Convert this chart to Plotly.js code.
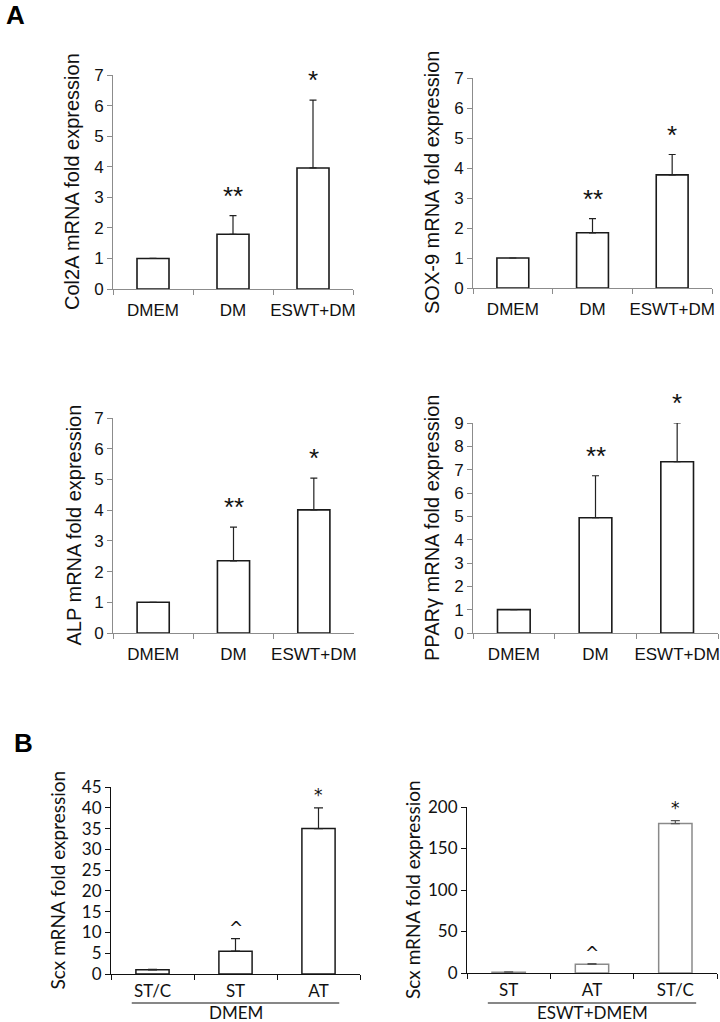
<!DOCTYPE html>
<html><head><meta charset="utf-8">
<script src="https://cdn.plot.ly/plotly-3.0.1.min.js"></script>
<style>html,body{margin:0;padding:0;background:#fff}</style>
</head><body><div id="chart" style="width:720px;height:1022px"></div>
<script>
// ---- data ----
const catsA = ['DMEM', 'DM', 'ESWT+DM'];
const col2aVals = [1.0, 1.79, 3.96];
const col2aErr  = [0, 0.61, 2.22];
const sox9Vals  = [1.0, 1.84, 3.77];
const sox9Err   = [0, 0.47, 0.68];
const alpVals   = [1.0, 2.35, 4.01];
const alpErr    = [0, 1.10, 1.03];
const pparVals  = [1.0, 4.94, 7.34];
const pparErr   = [0, 1.80, 1.66];
const sigA      = ['', '**', '*'];

const catsB1 = ['ST/C', 'ST', 'AT'];
const scxDmemVals = [1.0, 5.5, 35.0];
const scxDmemErr  = [0.1, 3.0, 5.0];
const sigB1 = ['', '^', '*'];
const catsB2 = ['ST', 'AT', 'ST/C'];
const scxEswtVals = [1.0, 10.5, 180.0];
const scxEswtErr  = [0.3, 0.8, 3.5];
const sigB2 = ['', '^', '*'];

const groupB1 = 'DMEM';
const groupB2 = 'ESWT+DMEM';

// ---- layout helpers ----
const W = 720, H = 1022;
const dx = (a, b) => [a / W, b / W];
const dy = (top, bottom) => [1 - bottom / H, 1 - top / H];

const fontA = 'Liberation Sans, Arial, sans-serif';
const fontB = 'Lato, Liberation Sans, sans-serif';

const panels = [
  {cats: catsA, vals: col2aVals, err: col2aErr, sig: sigA, title: 'Col2A mRNA fold expression',
   xd: dx(113, 353), yd: dy(75, 289), range: [0, 7], dtick: 1, style: 'A', titleX: 72},
  {cats: catsA, vals: sox9Vals, err: sox9Err, sig: sigA, title: 'SOX-9 mRNA fold expression',
   xd: dx(473, 712), yd: dy(78, 288), range: [0, 7], dtick: 1, style: 'A', titleX: 432},
  {cats: catsA, vals: alpVals, err: alpErr, sig: sigA, title: 'ALP mRNA fold expression',
   xd: dx(113, 354), yd: dy(418, 633), range: [0, 7], dtick: 1, style: 'A', titleX: 73},
  {cats: catsA, vals: pparVals, err: pparErr, sig: sigA, title: 'PPARγ mRNA fold expression',
   xd: dx(473, 718), yd: dy(423, 633), range: [0, 9], dtick: 1, style: 'A', titleX: 432},
  {cats: catsB1, vals: scxDmemVals, err: scxDmemErr, sig: sigB1, title: 'Scx mRNA fold expression',
   xd: dx(111, 360), yd: dy(787, 974), range: [0, 45], dtick: 5, style: 'B1', titleX: 57, group: groupB1},
  {cats: catsB2, vals: scxEswtVals, err: scxEswtErr, sig: sigB2, title: 'Scx mRNA fold expression',
   xd: dx(467, 717), yd: dy(807, 973), range: [0, 200], dtick: 50, style: 'B2', titleX: 412, group: groupB2}
];

const data = [];
const layout = {
  width: W, height: H, margin: {l: 0, r: 0, t: 0, b: 0},
  paper_bgcolor: '#fff', plot_bgcolor: 'rgba(0,0,0,0)',
  showlegend: false, annotations: [], shapes: []
};

panels.forEach((p, i) => {
  const n = i + 1;
  const xa = 'x' + (n === 1 ? '' : n), ya = 'y' + (n === 1 ? '' : n);
  const isA = p.style === 'A';
  const barLine = p.style === 'B2' ? '#8a8a8a' : '#1a1a1a';
  const errColor = p.style === 'B2' ? '#555' : '#222';
  data.push({
    type: 'bar', x: p.cats, y: p.vals, xaxis: xa, yaxis: ya, width: 0.4,
    marker: {color: '#fff', line: {color: barLine, width: isA ? 1.6 : 1.5}},
    error_y: {type: 'data', symmetric: false, array: p.err, arrayminus: p.err.map(() => 0),
              color: errColor, thickness: 1.2, width: isA ? 3.5 : 4.5},
    hoverinfo: 'skip'
  });
  const axColor = isA ? '#8c8c8c' : '#111';
  const font = isA ? fontA : fontB;
  const fs = 17;
  layout['xaxis' + (n === 1 ? '' : n)] = {
    domain: p.xd, anchor: ya, type: 'category', tickson: 'boundaries', tickangle: 0,
    showline: true, linecolor: axColor, linewidth: 1, ticks: 'outside', ticklen: 5,
    tickcolor: axColor, showgrid: false, zeroline: false, fixedrange: true, automargin: false,
    ticklabelstandoff: isA ? 6 : 2,
    tickfont: {family: font, size: fs, color: '#111'}
  };
  layout['yaxis' + (n === 1 ? '' : n)] = {
    domain: p.yd, anchor: xa, range: p.range, dtick: p.dtick, tick0: 0,
    showline: true, linecolor: axColor, linewidth: 1, ticks: 'outside', ticklen: 5,
    tickcolor: axColor, showgrid: false, zeroline: false, fixedrange: true, automargin: false,
    tickfont: {family: font, size: fs, color: '#111'}
  };
  layout.annotations.push({
    xref: 'paper', yref: 'paper', x: p.titleX / W, y: (p.yd[0] + p.yd[1]) / 2,
    text: p.title, textangle: -90, showarrow: false, xanchor: 'center', yanchor: 'middle',
    font: {family: font, size: isA ? 20 : 19, color: '#111'}
  });
  p.sig.forEach((s, k) => {
    if (!s) return;
    layout.annotations.push({
      xref: xa, yref: ya, x: p.cats[k], y: p.vals[k] + p.err[k], text: s, showarrow: false,
      xanchor: 'center', yanchor: 'middle',
      yshift: isA ? 20 : (s === '^' ? 11 : 13),
      font: {family: isA ? fontA : 'DejaVu Sans, sans-serif', size: isA ? 26 : 17, color: '#111'}
    });
  });
  if (p.group) {
    layout.shapes.push({type: 'line', xref: xa, yref: 'paper', x0: -0.25, x1: 2.25,
      y0: 1 - 1003 / H, y1: 1 - 1003 / H, line: {color: '#111', width: 1.2}});
    layout.annotations.push({xref: xa, yref: 'paper', x: 1, y: 1 - 1012 / H, text: p.group,
      showarrow: false, xanchor: 'center', yanchor: 'middle',
      font: {family: fontB, size: 17, color: '#111'}});
  }
});

layout.annotations.push({xref: 'paper', yref: 'paper', x: 15 / W, y: 1 - 15 / H, text: '<b>A</b>',
  showarrow: false, xanchor: 'center', yanchor: 'middle', font: {family: fontA, size: 26, color: '#000'}});
layout.annotations.push({xref: 'paper', yref: 'paper', x: 23 / W, y: 1 - 743 / H, text: '<b>B</b>',
  showarrow: false, xanchor: 'center', yanchor: 'middle', font: {family: fontA, size: 26, color: '#000'}});

Plotly.newPlot('chart', data, layout, {staticPlot: true, displayModeBar: false});
</script></body></html>
